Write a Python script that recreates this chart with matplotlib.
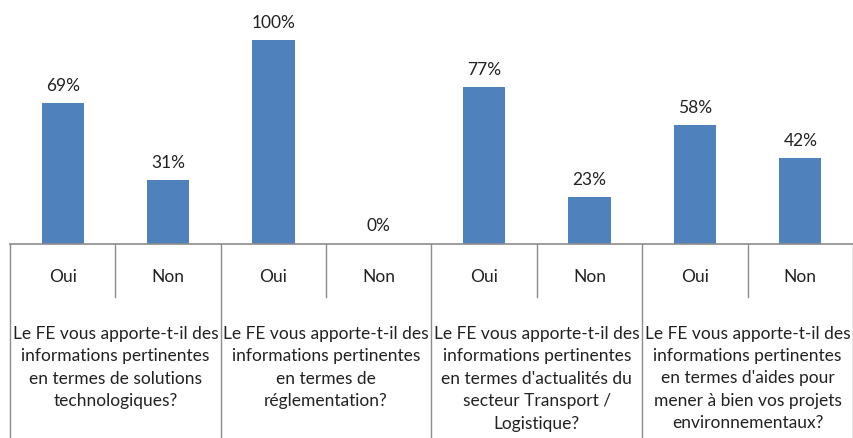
import numpy as np
import matplotlib.pyplot as plt

plt.rcParams['font.family'] = ['Lato', 'DejaVu Sans']

answers = ["Oui", "Non", "Oui", "Non", "Oui", "Non", "Oui", "Non"]
values = [69, 31, 100, 0, 77, 23, 58, 42]
questions = [
    "Le FE vous apporte-t-il des\ninformations pertinentes\nen termes de solutions\ntechnologiques?",
    "Le FE vous apporte-t-il des\ninformations pertinentes\nen termes de\nréglementation?",
    "Le FE vous apporte-t-il des\ninformations pertinentes\nen termes d'actualités du\nsecteur Transport /\nLogistique?",
    "Le FE vous apporte-t-il des\ninformations pertinentes\nen termes d'aides pour\nmener à bien vos projets\nenvironnementaux?",
]

bar_color = "#4F81BD"
line_color = "#8C8C8C"
W, H = 854, 439
base_px = 244.5   # pixel row of the category axis
fs = 12.5

fig = plt.figure(figsize=(W / 100, H / 100), dpi=100)
left = 10 / W
width = 843 / W

# bars
ax = fig.add_axes([left, (H - base_px) / H, width, base_px / H])
x = np.arange(len(values))
ax.bar(x, values, width=0.4, color=bar_color)
for xi, v in zip(x, values):
    ax.annotate(f"{v}%", (xi, v), xytext=(0, 13), textcoords="offset points",
                ha="center", va="center", fontsize=fs, color="#222222")
ax.set_xlim(-0.5, len(values) - 0.5)
ax.set_ylim(0, 100 * base_px / 203.5)
ax.axis("off")

# category table below the axis (y in pixels below the baseline)
tb = fig.add_axes([left, 0, width, (H - base_px) / H])
tb.set_xlim(-0.5, len(values) - 0.5)
tb.set_ylim(H - base_px, 0)
tb.axis("off")
tb.plot([-0.5, len(values) - 0.5], [0, 0], color=line_color, lw=1.2, clip_on=False)
for i in range(len(values) + 1):
    xe = i - 0.5
    bottom = 53.5 if i % 2 == 1 else H - base_px
    tb.plot([xe, xe], [0, bottom], color=line_color, lw=1, clip_on=False)
for xi, a in zip(x, answers):
    tb.text(xi, 32.5, a, ha="center", va="center", fontsize=fs, color="#222222")
for g, q in enumerate(questions):
    tb.text(2 * g + 0.5, 81, q, ha="center", va="top", fontsize=fs,
            linespacing=1.5, color="#222222")

fig.savefig("out.png", dpi=100)
